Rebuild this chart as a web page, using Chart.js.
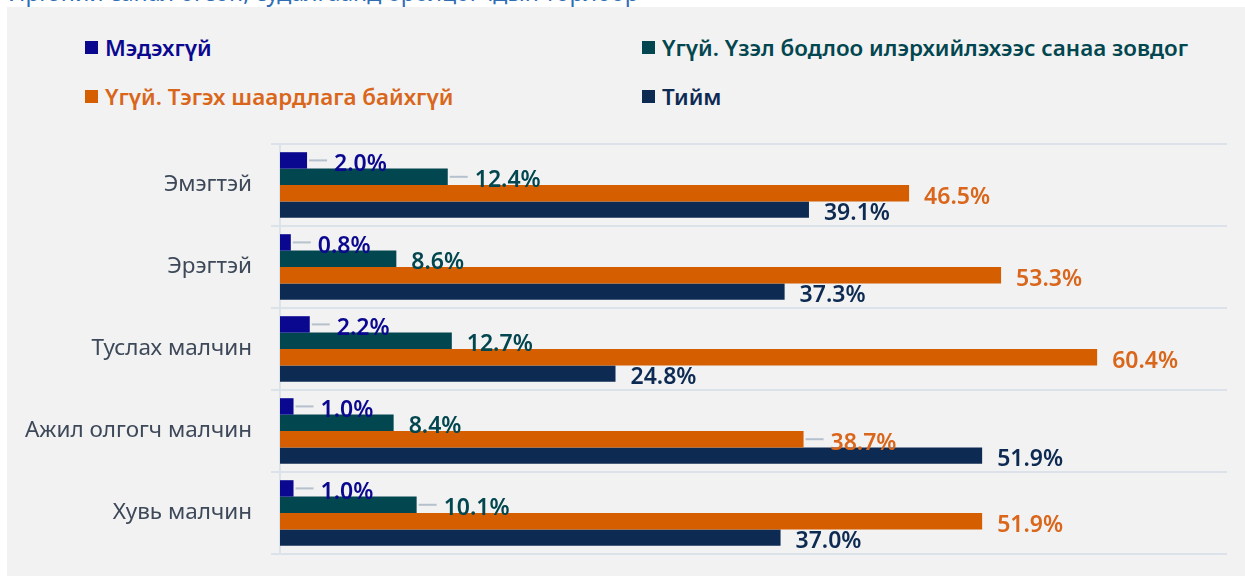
<!DOCTYPE html>
<html lang="mn">
<head>
    <meta charset="UTF-8">
    <title>Судалгаанд оролцогчдын төрлөөр</title>
    <script src="https://cdn.jsdelivr.net/npm/chart.js"></script>
    <style>
        body {
            margin: 0;
            width: 1245px;
            height: 576px;
            overflow: hidden;
            background: #ffffff;
            font-family: 'Noto Sans', 'Open Sans', sans-serif;
            position: relative;
        }

        .title {
            position: absolute;
            left: 8px;
            top: -24px;
            font-size: 23px;
            color: #2f6db5;
            white-space: nowrap;
        }

        .panel {
            position: absolute;
            left: 7px;
            top: 7px;
            width: 1238px;
            height: 569px;
            background: #f2f2f2;
        }

        .legend {
            position: absolute;
            left: 0;
            top: 0;
            width: 100%;
        }

        .legend-item {
            position: absolute;
            display: flex;
            align-items: center;
            font-size: 22.4px;
            font-weight: 600;
            white-space: nowrap;
        }

        .legend-item span.box {
            display: inline-block;
            width: 13px;
            height: 13px;
            margin-right: 7px;
        }

        #chartWrap {
            position: absolute;
            left: 0;
            top: 130px;
            width: 1245px;
            height: 440px;
        }
    </style>
</head>
<body>
    <div class="title">Иргэний санал өгсөн, судалгаанд оролцогчдын төрлөөр</div>
    <div class="panel"></div>
    <div class="legend" id="legend"></div>
    <div id="chartWrap"><canvas id="chart"></canvas></div>

    <script>
        const categories = ["Эмэгтэй", "Эрэгтэй", "Туслах малчин", "Ажил олгогч малчин", "Хувь малчин"];
        const seriesNames = ["Мэдэхгүй", "Үгүй. Үзэл бодлоо илэрхийлэхээс санаа зовдог", "Үгүй. Тэгэх шаардлага байхгүй", "Тийм"];
        const dontKnow = [2.0, 0.8, 2.2, 1.0, 1.0];
        const noAfraid = [12.4, 8.6, 12.7, 8.4, 10.1];
        const noNeed = [46.5, 53.3, 60.4, 38.7, 51.9];
        const yes = [39.1, 37.3, 24.8, 51.9, 37.0];

        const barColors = ["#0b0890", "#02464f", "#d45e00", "#0d2a52"];
        const labelColors = ["#0b0890", "#02464f", "#d9661a", "#0d2a52"];
        // which labels Excel drew with a leader line
        const leaders = [[1, 1, 1, 1, 1], [1, 0, 0, 0, 1], [0, 0, 0, 1, 0], [0, 0, 0, 0, 0]];

        // legend, two columns like the original
        const legendPos = [[85, 32], [642, 32], [85, 81], [642, 81]];
        const legendEl = document.getElementById("legend");
        seriesNames.forEach((name, i) => {
            const d = document.createElement("div");
            d.className = "legend-item";
            d.style.left = legendPos[i][0] + "px";
            d.style.top = legendPos[i][1] + "px";
            d.style.color = labelColors[i];
            d.innerHTML = `<span class="box" style="background:${barColors[i]}"></span>${name}`;
            legendEl.appendChild(d);
        });

        const valueLabels = {
            id: "valueLabels",
            afterDatasetsDraw(chart) {
                const ctx = chart.ctx;
                ctx.save();
                ctx.font = "600 23px 'Noto Sans', 'Open Sans', sans-serif";
                ctx.textBaseline = "middle";
                ctx.textAlign = "left";
                chart.data.datasets.forEach((ds, di) => {
                    const meta = chart.getDatasetMeta(di);
                    meta.data.forEach((bar, i) => {
                        const hasLine = leaders[di][i];
                        if (hasLine) {
                            ctx.strokeStyle = "#b5c1cd";
                            ctx.lineWidth = 2;
                            ctx.beginPath();
                            ctx.moveTo(bar.x + 2, bar.y);
                            ctx.lineTo(bar.x + 20, bar.y);
                            ctx.stroke();
                        }
                        ctx.fillStyle = labelColors[di];
                        ctx.fillText(ds.data[i].toFixed(1) + "%", bar.x + (hasLine ? 27 : 15), bar.y + 4);
                    });
                });
                ctx.restore();
            }
        };

        const allSeries = [dontKnow, noAfraid, noNeed, yes];

        new Chart(document.getElementById("chart"), {
            type: "bar",
            data: {
                labels: categories,
                datasets: allSeries.map((vals, i) => ({
                    label: seriesNames[i],
                    data: vals,
                    backgroundColor: barColors[i],
                    borderWidth: 0,
                    barPercentage: 1,
                    categoryPercentage: 0.8
                }))
            },
            options: {
                indexAxis: "y",
                responsive: true,
                maintainAspectRatio: false,
                animation: false,
                layout: { padding: { top: 14, bottom: 16, right: 18, left: 0 } },
                plugins: {
                    legend: { display: false },
                    tooltip: { enabled: false }
                },
                scales: {
                    x: {
                        display: false,
                        min: 0,
                        max: 70
                    },
                    y: {
                        afterFit(scale) {
                            scale.width = 280;
                            // drop the label half-height padding so the plot fills the box
                            scale.paddingTop = 0;
                            scale.paddingBottom = 0;
                        },
                        grid: {
                            color: "#dce2ea",
                            lineWidth: 2,
                            tickLength: 9
                        },
                        border: { color: "#dce2ea", width: 2 },
                        ticks: {
                            color: "#3d4859",
                            padding: 19,
                            font: { family: "'Noto Sans', 'Open Sans', sans-serif", size: 22.5 }
                        }
                    }
                }
            },
            plugins: [valueLabels]
        });
    </script>
</body>
</html>
